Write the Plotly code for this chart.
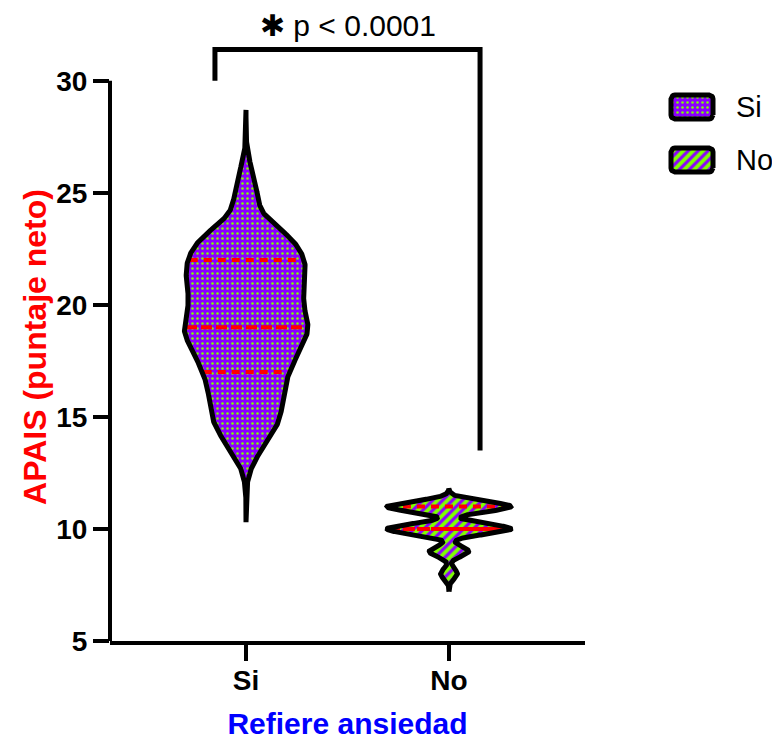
import numpy as np
import plotly.graph_objects as go

# ---------------- data (APAIS scores: value -> number of patients) ----------------
groups = ["Si", "No"]
si_scores = [13, 14, 15, 16, 17, 18, 19, 20, 21, 22, 23, 24, 25, 26]
si_counts = [1, 4, 6, 6, 7, 9, 11, 9, 10, 10, 8, 2, 2, 1]
no_scores = [8, 9, 10, 11]
no_counts = [3, 7, 22, 22]
y_ticks = [5, 10, 15, 20, 25, 30]
p_label = "\u2731 p < 0.0001"

# ---------------- styling ----------------
PURPLE = "#8B00FF"
GREEN = "#7FFF00"
RED = "#FF0000"
FONT = "Arial, Liberation Sans, sans-serif"
bandwidths = [0.65, 0.23]
tail_pad = [2.7, 0.8]
half_width = 0.305
patterns = [
    dict(shape=".", bgcolor=PURPLE, fgcolor=GREEN, size=5, solidity=0.2, fillmode="replace"),
    dict(shape="/", bgcolor=PURPLE, fgcolor=GREEN, size=7, solidity=0.55, fillmode="replace"),
]


def kde_profile(scores, counts, h, pad):
    obs = np.repeat(np.array(scores, float), counts)
    ys = np.linspace(obs.min() - pad, obs.max() + pad, 600)
    dens = np.exp(-0.5 * ((ys[:, None] - obs[None, :]) / h) ** 2).sum(axis=1)
    return obs, ys, dens / dens.max() * half_width


def rounded_rect(cx, cy, hw, hh, r):
    xs, ys = [], []
    for (ox, oy, a0) in [(hw - r, hh - r, 0), (-hw + r, hh - r, 90),
                         (-hw + r, -hh + r, 180), (hw - r, -hh + r, 270)]:
        t = np.radians(np.linspace(a0, a0 + 90, 8))
        xs.extend(cx + ox + r * np.cos(t))
        ys.extend(cy + oy + r * np.sin(t))
    xs.append(xs[0])
    ys.append(ys[0])
    return xs, ys


fig = go.Figure()
data = [(si_scores, si_counts), (no_scores, no_counts)]
for i, (name, (sc, ct)) in enumerate(zip(groups, data)):
    obs, ys, w = kde_profile(sc, ct, bandwidths[i], tail_pad[i])
    px_ = np.concatenate([i + w, (i - w)[::-1]])
    py_ = np.concatenate([ys, ys[::-1]])
    fig.add_trace(go.Scatter(x=px_, y=py_, fill="toself", mode="none",
                             fillpattern=patterns[i], showlegend=False, hoverinfo="skip"))
    q1, med, q3 = np.percentile(obs, [25, 50, 75])
    for q, dash in [(q1, "8px,6px"), (q3, "8px,6px"), (med, "11px,4px")]:
        wq = np.interp(q, ys, w) * 0.97
        fig.add_trace(go.Scatter(x=[i - wq, i + wq], y=[q, q], mode="lines",
                                 line=dict(color=RED, width=4, dash=dash),
                                 showlegend=False, hoverinfo="skip"))
    fig.add_trace(go.Scatter(x=px_, y=py_, mode="lines",
                             line=dict(color="black", width=5),
                             showlegend=False, hoverinfo="skip"))

# ---------------- custom legend (in a helper pixel-unit subplot) ----------------
for j, name in enumerate(groups):
    cy = 107 + 53 * j
    lx, ly = rounded_rect(692, cy, 21, 12, 4)
    fig.add_trace(go.Scatter(
        x=lx, y=ly, xaxis="x2", yaxis="y2", fill="toself", fillpattern=patterns[j],
        mode="lines", line=dict(color="black", width=5), showlegend=False, hoverinfo="skip"))
    fig.add_annotation(x=734, y=cy, xref="x2", yref="y2", text=name, showarrow=False,
                       xanchor="left", yanchor="middle",
                       font=dict(family=FONT, size=29, color="black"))

# ---------------- significance bracket ----------------
top_y = 31.4
fig.add_shape(type="path", xref="x", yref="y",
              path=f"M -0.153,30 L -0.153,{top_y} L 1.153,{top_y} L 1.153,13.5",
              line=dict(color="black", width=5))
fig.add_annotation(x=0.5, xref="x", y=1.0455, yref="paper", text=p_label, showarrow=False,
                   yanchor="top", borderpad=0,
                   font=dict(family=FONT, size=30, color="black"))

# y axis title (centred like the reference)
fig.add_annotation(x=-0.112, xref="paper", y=0.486, yref="paper", text="APAIS (puntaje neto)",
                   textangle=-90, showarrow=False, xanchor="center", yanchor="middle",
                   font=dict(family=FONT, size=32, color="#FF0000", weight="bold"))

# y axis line only from 5 to 30
fig.add_shape(type="line", xref="paper", yref="y", x0=0, x1=0, y0=5, y1=30,
              line=dict(color="black", width=4))

W_PLOT = 475 / 670
fig.update_layout(
    width=772, height=734,
    margin=dict(l=102, r=0, t=28, b=101),
    paper_bgcolor="white", plot_bgcolor="white",
    showlegend=False,
    xaxis=dict(domain=[0, W_PLOT], range=[-0.67, 1.67], tickvals=[0, 1], ticktext=groups,
               showline=True, linecolor="black", linewidth=4, ticks="outside",
               ticklen=16, tickwidth=4, tickcolor="black", showgrid=False, zeroline=False,
               ticklabelstandoff=-5,
               tickfont=dict(family=FONT, size=28, color="black", weight="bold"),
               title=dict(text="Refiere ansiedad", standoff=19,
                          font=dict(family=FONT, size=30, color="#0000FF", weight="bold"))),
    yaxis=dict(range=[5, 32], tickvals=y_ticks, showline=False, ticks="outside",
               ticklen=16, tickwidth=4, tickcolor="black", showgrid=False, zeroline=False,
               tickfont=dict(family=FONT, size=28, color="black", weight="bold")),
    xaxis2=dict(domain=[(660 - 110) / 670, 1], range=[660, 780], visible=False, anchor="y2"),
    yaxis2=dict(domain=[(641 - 185) / 605, (641 - 85) / 605], range=[185, 85],
                visible=False, anchor="x2"),
)

fig.write_html("out.html")
